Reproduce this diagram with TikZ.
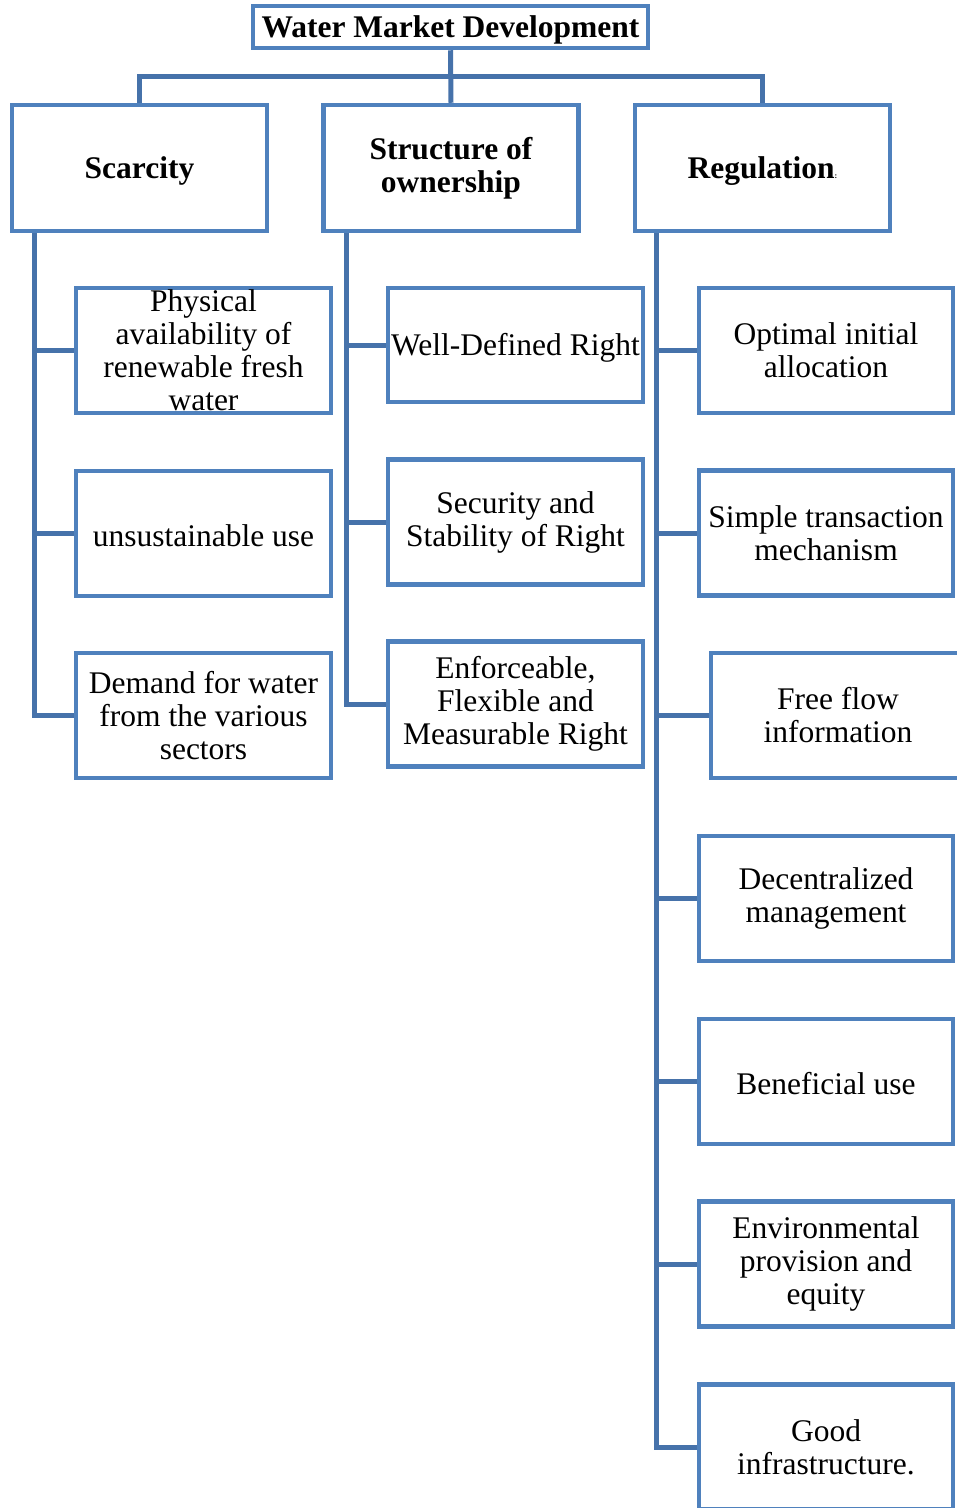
\documentclass[tikz,border=0pt]{standalone}
\usepackage{fontspec}
\setmainfont{Liberation Serif}
\usetikzlibrary{positioning}
\definecolor{boxblue}{HTML}{4F81BD}
\definecolor{lineblue}{HTML}{4672AA}
\newcommand{\lowstrut}{\rule{0pt}{27pt}}
\tikzset{cbox/.style={rectangle,draw=boxblue,line width=4.5pt,minimum width=255pt,minimum height=125pt,inner xsep=2pt,inner ysep=0pt,align=center,font=\fontsize{31.5}{33}\selectfont,execute at begin node=\lowstrut},
	 hbox/.style={cbox,minimum height=126pt,font=\fontsize{31.5}{33}\selectfont\bfseries},
	 link/.style={draw=lineblue,line width=5pt}
	 }

\begin{document}
\begin{tikzpicture}[x=1pt,y=-1pt] % water market tree
	\useasboundingbox (0,0) rectangle (957,1508);
	\clip (0,0) rectangle (957,1508);
	\node[hbox,minimum width=395pt,minimum height=42pt,execute at begin node={}] (top) at (450.5,27) {Water Market Development};
	\node[hbox] (sc) at (139.5,168) {Scarcity};
	\node[hbox] (so) at (451,168) {Structure of\\ownership};
	\node[hbox] (rg) at (762.5,168) {Regulation{\fontsize{8}{8}\selectfont:}};
	\coordinate (bus) at (451,76);
	\node[cbox,execute at begin node={}] (sc1) at (203.5,350.5) {Physical\\availability of\\renewable fresh\\water};
	\node[cbox] (sc2) at (203.5,533.5) {unsustainable use};
	\node[cbox] (sc3) at (203.5,715.5) {Demand for water\\from the various\\sectors};
	\node[cbox,minimum height=114pt] (so1) at (515.5,345) {Well-Defined Right};
	\node[cbox] (so2) at (515.5,522) {Security and\\Stability of Right};
	\node[cbox] (so3) at (515.5,704) {Enforceable,\\Flexible and\\Measurable Right};
	\node[cbox,minimum width=254pt] (rg1) at (826,350.5) {Optimal initial\\allocation};
	\node[cbox,minimum width=254pt] (rg2) at (826,533) {Simple transaction\\mechanism};
	\node[cbox,minimum width=254pt] (rg3) at (838,715.5) {Free flow\\information};
	\node[cbox,minimum width=254pt] (rg4) at (826,898.5) {Decentralized\\management};
	\node[cbox,minimum width=254pt] (rg5) at (826,1081.5) {Beneficial use};
	\node[cbox,minimum width=254pt] (rg6) at (826,1264) {Environmental\\provision and\\equity};
	\node[cbox,minimum width=254pt] (rg7) at (826,1447) {Good\\infrastructure.};
	\draw[link] (top.south) -- (so.north);
	\draw[link] (sc.north) |- (bus) -| (rg.north);
	\foreach \c in {sc1,sc2,sc3} \draw[link] ([xshift=25pt]sc.south west) |- (\c.west);
	\foreach \c in {so1,so2,so3} \draw[link] ([xshift=25pt]so.south west) |- (\c.west);
	\foreach \c in {rg1,rg2,rg3,rg4,rg5,rg6,rg7} \draw[link] ([xshift=24pt]rg.south west) |- (\c.west);
\end{tikzpicture}
\end{document}
